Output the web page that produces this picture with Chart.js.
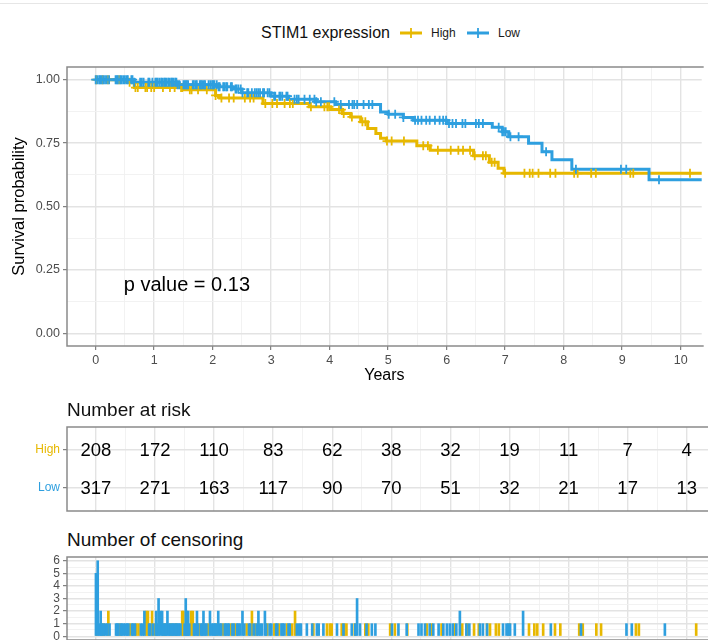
<!DOCTYPE html>
<html>
<head>
<meta charset="utf-8">
<script src="https://cdn.jsdelivr.net/npm/chart.js@4.4.0/dist/chart.umd.min.js"></script>
<style>
  body { margin: 0; background: #fff; font-family: 'Liberation Sans', Arial, Helvetica, sans-serif; }
  #wrap { position: relative; width: 708px; height: 640px; overflow: hidden; }
  .abs { position: absolute; white-space: nowrap; }
  .topline { left: 0; top: 3px; width: 708px; height: 1px; background: #e6e6e6; }
  .lg { font-size: 12px; line-height: 20px; top: 23px; color: #1a1a1a; }
  .section { left: 67px; font-size: 19px; line-height: 20px; color: #111; }
  canvas { display: block; }
</style>
</head>
<body>
<div id="wrap">
  <div class="abs topline"></div>

  <div class="abs" style="left:261px;top:23px;font-size:16px;line-height:20px;color:#111">STIM1 expression</div>
  <svg class="abs" style="left:400px;top:27px" width="22" height="12">
    <line x1="0" y1="6" x2="22" y2="6" stroke="#E7B800" stroke-width="3"/>
    <line x1="11" y1="1" x2="11" y2="11" stroke="#E7B800" stroke-width="1.8"/>
  </svg>
  <div class="abs lg" style="left:431px">High</div>
  <svg class="abs" style="left:467px;top:27px" width="22" height="12">
    <line x1="0" y1="6" x2="22" y2="6" stroke="#2E9FDF" stroke-width="3"/>
    <line x1="11" y1="1" x2="11" y2="11" stroke="#2E9FDF" stroke-width="1.8"/>
  </svg>
  <div class="abs lg" style="left:498px">Low</div>

  <div class="abs" style="left:0;top:60px"><canvas id="km" width="708" height="340"></canvas></div>

  <div class="abs section" style="top:400px">Number at risk</div>
  <div class="abs" style="left:0;top:415px"><canvas id="risk" width="708" height="100"></canvas></div>

  <div class="abs section" style="top:530px">Number of censoring</div>
  <div class="abs" style="left:0;top:550px"><canvas id="cens" width="708" height="90"></canvas></div>
</div>

<script>
const YELLOW = '#E7B800';
const BLUE = '#2E9FDF';

// Kaplan-Meier steps (years, survival)
const highTimes = [0, 0.55, 0.66, 1.5, 2.05, 2.12, 2.86, 3.65, 4.02, 4.22, 4.36, 4.53, 4.65, 4.79, 4.87, 4.97, 5.49, 5.72, 6.46, 6.73, 6.88, 6.98, 10.6];
const highSurv  = [1, 0.99, 0.969, 0.96, 0.938, 0.928, 0.906, 0.893, 0.882, 0.867, 0.853, 0.834, 0.808, 0.788, 0.769, 0.758, 0.74, 0.722, 0.70, 0.674, 0.651, 0.631, 0.631];
const lowTimes  = [0, 0.66, 1.4, 2.1, 2.35, 2.5, 3.0, 3.3, 3.77, 4.1, 4.87, 5.0, 5.26, 5.43, 6.0, 6.78, 6.95, 7.06, 7.4, 7.63, 7.8, 8.14, 9.46, 10.5];
const lowSurv   = [1, 0.99, 0.98, 0.972, 0.963, 0.948, 0.935, 0.923, 0.913, 0.902, 0.873, 0.864, 0.851, 0.84, 0.827, 0.812, 0.795, 0.775, 0.749, 0.716, 0.684, 0.647, 0.605, 0.605];

// censoring times and counts
const highCensT = [
  0.01, 0.12, 0.21, 0.40, 0.58, 0.68, 0.72, 0.85, 0.88, 0.95,
  1.00, 1.15, 1.27, 1.35, 1.46, 1.48, 1.61, 1.64, 1.75, 1.90,
  2.05, 2.15, 2.28, 2.36, 2.55, 2.64, 2.70, 2.90, 3.02, 3.10,
  3.23, 3.32, 3.37, 3.68, 3.91, 3.96, 3.99, 4.16, 4.20, 4.24,
  4.38, 4.56, 4.61, 4.98, 5.06, 5.27, 5.60, 5.68, 5.85, 6.07,
  6.20, 6.28, 6.40, 6.48, 6.62, 6.67, 6.77, 6.82, 7.00, 7.33,
  7.42, 7.47, 7.57, 7.77, 7.86, 8.18, 8.24, 8.47, 8.55, 9.14,
  9.19, 10.16
];
const highCensN = [
  1, 1, 2, 1, 1, 1, 1, 2, 2, 2,
  1, 1, 1, 1, 2, 2, 2, 2, 1, 1,
  1, 1, 1, 1, 1, 2, 1, 1, 1, 1,
  1, 1, 2, 1, 1, 1, 1, 1, 1, 1,
  1, 1, 1, 1, 1, 1, 1, 1, 1, 1,
  1, 1, 1, 1, 1, 1, 1, 1, 1, 1,
  1, 1, 1, 1, 1, 1, 1, 1, 1, 1,
  1, 1
];
const lowCensT = [
  0.00, 0.03, 0.06, 0.08, 0.10, 0.13, 0.16, 0.19, 0.23, 0.34,
  0.36, 0.38, 0.42, 0.44, 0.47, 0.50, 0.53, 0.55, 0.61, 0.63,
  0.66, 0.76, 0.79, 0.82, 0.90, 0.92, 0.97, 1.02, 1.04, 1.06,
  1.09, 1.12, 1.14, 1.17, 1.19, 1.21, 1.24, 1.26, 1.29, 1.31,
  1.33, 1.36, 1.38, 1.40, 1.43, 1.50, 1.52, 1.54, 1.56, 1.58,
  1.66, 1.68, 1.71, 1.73, 1.78, 1.80, 1.82, 1.85, 1.87, 1.93,
  1.96, 1.99, 2.01, 2.03, 2.07, 2.10, 2.12, 2.18, 2.20, 2.23,
  2.25, 2.31, 2.33, 2.39, 2.41, 2.44, 2.48, 2.51, 2.59, 2.61,
  2.67, 2.72, 2.75, 2.78, 2.81, 2.86, 2.88, 2.94, 2.97, 3.05,
  3.07, 3.14, 3.16, 3.19, 3.26, 3.28, 3.40, 3.44, 3.47, 3.57,
  3.66, 3.74, 3.77, 3.85, 4.08, 4.19, 4.33, 4.39, 4.42, 4.47,
  4.58, 4.67, 4.73, 5.01, 5.12, 5.26, 5.46, 5.51, 5.57, 5.65,
  5.71, 5.80, 5.88, 5.94, 5.99, 6.04, 6.10, 6.16, 6.27, 6.32,
  6.50, 6.55, 6.62, 6.89, 6.95, 6.98, 7.01, 7.09, 7.23, 7.70,
  8.21, 8.98, 9.07, 9.63
];
const lowCensN = [
  5, 6, 1, 2, 1, 1, 1, 1, 1, 1,
  1, 1, 1, 1, 1, 1, 1, 1, 1, 1,
  1, 1, 1, 2, 1, 1, 1, 2, 1, 3,
  2, 2, 1, 1, 1, 2, 1, 1, 1, 1,
  1, 1, 1, 1, 1, 1, 3, 2, 2, 1,
  1, 1, 2, 1, 1, 1, 2, 1, 1, 2,
  1, 1, 1, 1, 2, 1, 1, 1, 1, 1,
  1, 1, 1, 1, 1, 1, 2, 1, 1, 1,
  1, 1, 2, 1, 1, 2, 1, 1, 1, 1,
  1, 1, 1, 1, 1, 1, 1, 1, 1, 1,
  1, 1, 1, 1, 1, 1, 1, 1, 3, 1,
  1, 1, 1, 1, 1, 1, 1, 1, 1, 1,
  1, 1, 1, 1, 1, 1, 1, 2, 1, 1,
  1, 1, 1, 1, 1, 1, 1, 1, 2, 1,
  1, 1, 1, 1
];

// number at risk table
const riskTimes = [0, 1, 2, 3, 4, 5, 6, 7, 8, 9, 10];
const riskHigh = [208, 172, 110, 83, 62, 38, 32, 19, 11, 7, 4];
const riskLow  = [317, 271, 163, 117, 90, 70, 51, 32, 21, 17, 13];

const pValueText = 'p value = 0.13';
const pValuePos = { x: 1.56, y: 0.19 };

const X_MIN = -0.49, X_MAX = 10.36;
const TICK_GRAY = '#4d4d4d';
const FONT = "'Liberation Sans', Arial, Helvetica, sans-serif";

Chart.defaults.font.family = FONT;
Chart.defaults.animation = false;
Chart.defaults.plugins.legend.display = false;
Chart.defaults.plugins.tooltip.enabled = false;
Chart.defaults.events = [];

function isMajor(v, step) {
  return Math.abs(v / step - Math.round(v / step)) < 1e-6;
}

function gridFor(step) {
  return {
    color: c => (c.tick && isMajor(c.tick.value, step)) ? '#e3e3e3' : '#f0f0f0',
    lineWidth: c => (c.tick && isMajor(c.tick.value, step)) ? 1.4 : 0.9,
    tickColor: c => (c.tick && isMajor(c.tick.value, step)) ? '#666' : 'rgba(0,0,0,0)',
    tickLength: 4,
    tickWidth: 1,
    offset: false,
  };
}

function fixWidth(w) {
  return scale => { scale.width = w; scale.paddingTop = 0; scale.paddingBottom = 0; };
}
function fixHeight(h) {
  return scale => { scale.height = h; scale.paddingLeft = 0; scale.paddingRight = 0; };
}

function xAxis(height, showLabels, title) {
  return {
    type: 'linear', min: X_MIN, max: X_MAX, offset: false,
    border: { display: false },
    grid: Object.assign(gridFor(1), { drawTicks: showLabels }),
    ticks: {
      display: showLabels, stepSize: 0.5, autoSkip: false, maxRotation: 0, includeBounds: false,
      color: TICK_GRAY, font: { size: 12.5 }, padding: 3,
      callback: v => isMajor(v, 1) ? String(v) : '',
    },
    title: title || { display: false },
    afterFit: fixHeight(height),
  };
}

const panelBorder = {
  id: 'panelBorder',
  afterDatasetsDraw(chart) {
    const a = chart.chartArea, ctx = chart.ctx;
    ctx.save();
    ctx.strokeStyle = '#8a8a8a';
    ctx.lineWidth = 1.5;
    ctx.beginPath();
    ctx.moveTo(a.right + 2, a.top);
    ctx.lineTo(a.left, a.top);
    ctx.lineTo(a.left, a.bottom);
    ctx.lineTo(a.right + 2, a.bottom);
    ctx.stroke();
    ctx.restore();
  }
};

function survAt(ts, ss, t) {
  let s = ss[0];
  for (let i = 0; i < ts.length; i++) if (ts[i] <= t) s = ss[i];
  return s;
}
const kmPoints = (ts, ss) => ts.map((t, i) => ({ x: t, y: ss[i] }));
const markPoints = (cts, ts, ss) => cts.map(t => ({ x: t, y: survAt(ts, ss, t) }));

function markSet(data, color) {
  return {
    data, showLine: false, pointStyle: 'cross', pointRadius: 4.5,
    pointBorderWidth: 1.8, pointBorderColor: color, borderColor: color, backgroundColor: color,
  };
}
function curveSet(data, color) {
  return { data, stepped: 'before', borderColor: color, borderWidth: 3, pointRadius: 0, fill: false };
}

// ---------- survival curves ----------
const pValuePlugin = {
  id: 'pValue',
  afterDatasetsDraw(chart) {
    const { ctx, scales: { x, y } } = chart;
    ctx.save();
    ctx.fillStyle = '#000';
    ctx.font = '20px ' + FONT;
    ctx.textAlign = 'center';
    ctx.textBaseline = 'middle';
    ctx.fillText(pValueText, x.getPixelForValue(pValuePos.x), y.getPixelForValue(pValuePos.y));
    ctx.restore();
  }
};

new Chart(document.getElementById('km'), {
  type: 'line',
  data: {
    datasets: [
      markSet(markPoints(lowCensT, lowTimes, lowSurv), BLUE),
      markSet(markPoints(highCensT, highTimes, highSurv), YELLOW),
      curveSet(kmPoints(lowTimes, lowSurv), BLUE),
      curveSet(kmPoints(highTimes, highSurv), YELLOW),
    ],
  },
  options: {
    responsive: false,
    layout: { padding: { top: 7, left: 0, right: 0, bottom: 0 } },
    scales: {
      x: xAxis(54, true, {
        display: true, text: 'Years', color: '#000', font: { size: 16 },
        padding: { top: 0, bottom: 14.4 },
      }),
      y: {
        type: 'linear', min: -0.05, max: 1.05,
        border: { display: false },
        grid: gridFor(0.25),
        ticks: {
          stepSize: 0.125, autoSkip: false, includeBounds: false,
          color: TICK_GRAY, font: { size: 12.5 }, padding: 3,
          callback: v => isMajor(v, 0.25) ? v.toFixed(2) : '',
        },
        title: {
          display: true, text: 'Survival probability', color: '#000', font: { size: 16.5 },
          padding: { top: 10, bottom: 0 },
        },
        afterFit: fixWidth(67),
      },
    },
  },
  plugins: [pValuePlugin, panelBorder],
});

// ---------- number at risk ----------
const riskLabels = {
  id: 'riskLabels',
  afterDatasetsDraw(chart) {
    const ctx = chart.ctx;
    ctx.save();
    ctx.fillStyle = '#000';
    ctx.font = '18.5px ' + FONT;
    ctx.textAlign = 'center';
    ctx.textBaseline = 'middle';
    chart.data.datasets.forEach((ds, i) => {
      chart.getDatasetMeta(i).data.forEach((el, j) => {
        ctx.fillText(String(ds.data[j].n), el.x, el.y + 1);
      });
    });
    ctx.restore();
  }
};

new Chart(document.getElementById('risk'), {
  type: 'line',
  data: {
    datasets: [
      { data: riskTimes.map((t, i) => ({ x: t, y: 2, n: riskHigh[i] })), showLine: false, pointRadius: 0 },
      { data: riskTimes.map((t, i) => ({ x: t, y: 1, n: riskLow[i] })), showLine: false, pointRadius: 0 },
    ],
  },
  options: {
    responsive: false,
    layout: { padding: { top: 12, left: 0, right: 0, bottom: 0 } },
    scales: {
      x: xAxis(4, false),
      y: {
        type: 'linear', min: 0.4, max: 2.6,
        border: { display: false },
        grid: gridFor(1),
        ticks: {
          stepSize: 1, autoSkip: false, includeBounds: false, padding: 3,
          font: { size: 12 },
          color: c => c.tick && c.tick.value === 2 ? YELLOW : BLUE,
          callback: v => v === 2 ? 'High' : (v === 1 ? 'Low' : ''),
        },
        afterFit: fixWidth(67),
      },
    },
  },
  plugins: [riskLabels, panelBorder],
});

// ---------- number of censoring ----------
new Chart(document.getElementById('cens'), {
  type: 'bar',
  data: {
    datasets: [
      {
        data: lowCensT.map((t, i) => ({ x: t, y: lowCensN[i] })),
        backgroundColor: BLUE, barThickness: 2, grouped: false,
      },
      {
        data: highCensT.map((t, i) => ({ x: t, y: highCensN[i] })),
        backgroundColor: YELLOW, barThickness: 2, grouped: false,
      },
    ],
  },
  options: {
    responsive: false,
    layout: { padding: { top: 7, left: 0, right: 0, bottom: 0 } },
    scales: {
      x: xAxis(0, false),
      y: {
        type: 'linear', min: -0.3, max: 6.3,
        border: { display: false },
        grid: gridFor(1),
        ticks: {
          stepSize: 0.5, autoSkip: false, includeBounds: false,
          color: TICK_GRAY, font: { size: 12 }, padding: 3,
          callback: v => isMajor(v, 1) ? String(v) : '',
        },
        afterFit: fixWidth(67),
      },
    },
  },
  plugins: [panelBorder],
});
</script>
</body>
</html>
